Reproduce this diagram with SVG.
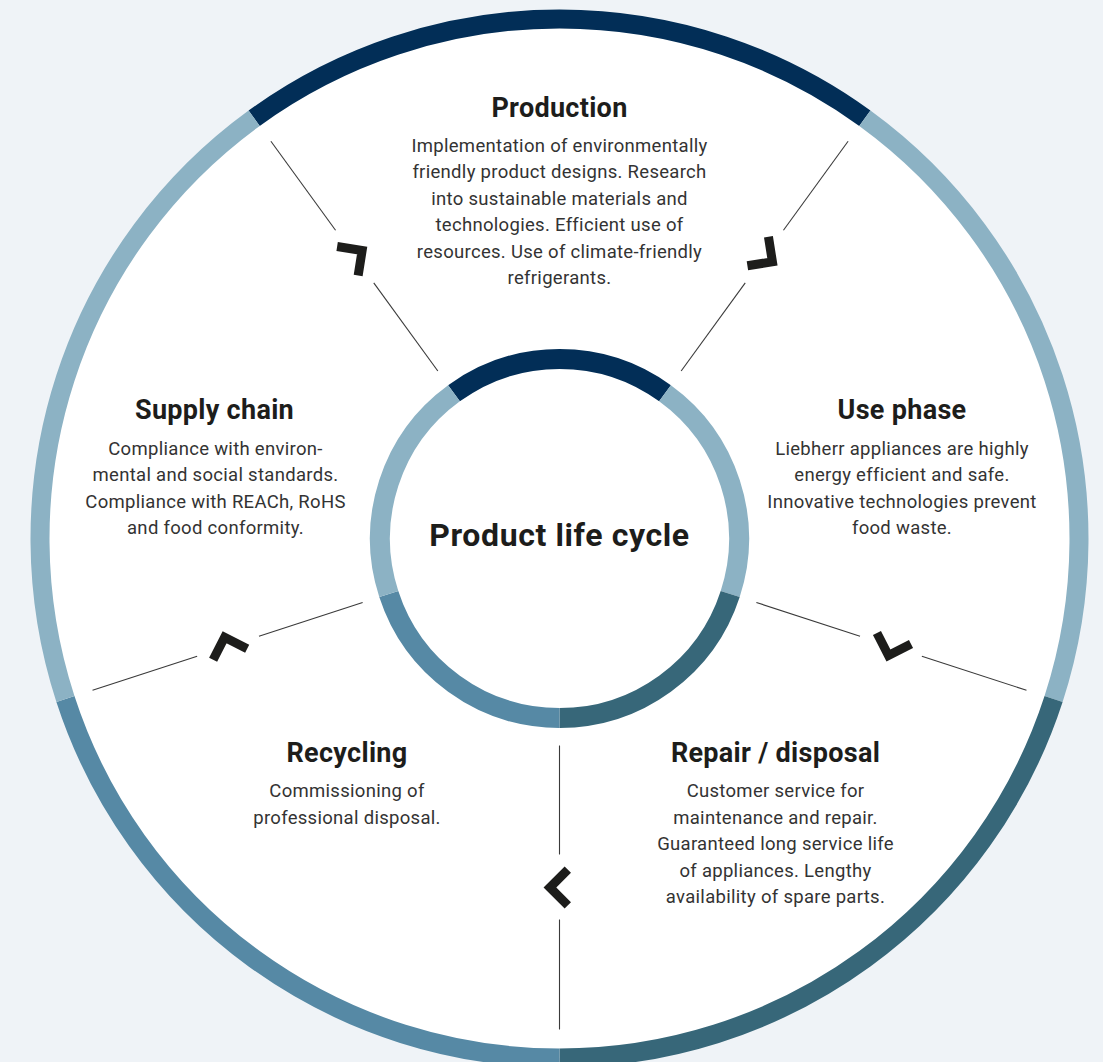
<svg xmlns="http://www.w3.org/2000/svg" width="1103" height="1062" viewBox="0 0 1103 1062">
  <defs>
    <style>
      .bg { fill: #eff3f7; }
      .disc { fill: #ffffff; }
      .ring-outer { fill: none; stroke-width: 19; }
      .ring-inner { fill: none; stroke-width: 20; }
      .navy { stroke: #022e57; }
      .light { stroke: #8cb2c4; }
      .teal { stroke: #376779; }
      .mid { stroke: #5689a5; }
      .sep { stroke: #3a3a3a; stroke-width: 1.1; fill: none; }
      .chev { fill: none; stroke: #1d1d1b; stroke-width: 9; stroke-linejoin: miter; stroke-linecap: butt; }
      .title { font-family: Roboto, "Noto Sans", sans-serif; font-weight: 700; font-size: 27px; letter-spacing: 0.3px; fill: #1d1d1b; text-anchor: middle; }
      .centre { font-family: Roboto, "Noto Sans", sans-serif; font-weight: 700; font-size: 32px; letter-spacing: 0.6px; fill: #1d1d1b; text-anchor: middle; }
      .body { font-family: Roboto, "Noto Sans", sans-serif; font-weight: 400; font-size: 18.5px; letter-spacing: 0.3px; fill: #333333; text-anchor: middle; }
    </style>
    <polyline id="chevron" class="chev" points="8.3,-17.9 -9.6,0 8.3,17.9"/>
  </defs>

  <rect class="bg" x="0" y="0" width="1103" height="1062"/>

  <!-- outer ring: white disc with five coloured arcs -->
  <g id="outer-ring">
    <circle class="disc" cx="559.5" cy="538.5" r="519.5"/>
    <path class="ring-outer navy" d="M254.15,118.21 A519.5,519.5 0 0 1 864.85,118.21"/>
    <path class="ring-outer light" d="M864.85,118.21 A519.5,519.5 0 0 1 1053.57,699.03"/>
    <path class="ring-outer teal" d="M1053.57,699.03 A519.5,519.5 0 0 1 559.5,1058"/>
    <path class="ring-outer mid" d="M559.5,1058 A519.5,519.5 0 0 1 65.43,699.03"/>
    <path class="ring-outer light" d="M65.43,699.03 A519.5,519.5 0 0 1 254.15,118.21"/>
  </g>

  <!-- connectors: radial separators with direction chevrons -->
  <g id="connectors">
    <g id="sep-36">
      <line class="sep" x1="681.17" y1="371.03" x2="745.24" y2="282.85"/>
      <line class="sep" x1="783.45" y1="230.27" x2="848.10" y2="141.27"/>
      <use href="#chevron" transform="translate(764.64,256.15) rotate(216)"/>
    </g>
    <g id="sep-108">
      <line class="sep" x1="756.37" y1="602.47" x2="860.03" y2="636.15"/>
      <line class="sep" x1="921.85" y1="656.24" x2="1026.47" y2="690.23"/>
      <use href="#chevron" transform="translate(891.42,646.35) rotate(288)"/>
    </g>
    <g id="sep-180">
      <line class="sep" x1="559.5" y1="745.5" x2="559.5" y2="854.5"/>
      <line class="sep" x1="559.5" y1="919.5" x2="559.5" y2="1029.5"/>
      <use href="#chevron" transform="translate(559.5,887.5)"/>
    </g>
    <g id="sep-252">
      <line class="sep" x1="362.63" y1="602.47" x2="258.97" y2="636.15"/>
      <line class="sep" x1="197.15" y1="656.24" x2="92.53" y2="690.23"/>
      <use href="#chevron" transform="translate(227.58,646.35) rotate(72)"/>
    </g>
    <g id="sep-324">
      <line class="sep" x1="437.83" y1="371.03" x2="373.76" y2="282.85"/>
      <line class="sep" x1="335.55" y1="230.27" x2="270.90" y2="141.27"/>
      <use href="#chevron" transform="translate(354.36,256.15) rotate(144)"/>
    </g>
  </g>

  <!-- centre node -->
  <g id="node-centre">
    <circle class="disc" cx="559.5" cy="538.5" r="170"/>
    <path class="ring-inner navy" d="M453.99,393.28 A179.5,179.5 0 0 1 665.01,393.28"/>
    <path class="ring-inner light" d="M665.01,393.28 A179.5,179.5 0 0 1 730.21,593.97"/>
    <path class="ring-inner teal" d="M730.21,593.97 A179.5,179.5 0 0 1 559.5,718"/>
    <path class="ring-inner mid" d="M559.5,718 A179.5,179.5 0 0 1 388.79,593.97"/>
    <path class="ring-inner light" d="M388.79,593.97 A179.5,179.5 0 0 1 453.99,393.28"/>
    <text class="centre" x="559.5" y="545.5">Product life cycle</text>
  </g>

  <g id="node-production">
    <text class="title" x="559.5" y="116.5">Production</text>
    <text class="body" x="559.5" y="151.5">Implementation of environmentally</text>
    <text class="body" x="559.5" y="178">friendly product designs. Research</text>
    <text class="body" x="559.5" y="204.5">into sustainable materials and</text>
    <text class="body" x="559.5" y="231">technologies. Efficient use of</text>
    <text class="body" x="559.5" y="257.5">resources. Use of climate-friendly</text>
    <text class="body" x="559.5" y="284">refrigerants.</text>
  </g>

  <g id="node-use-phase">
    <text class="title" x="902" y="418.5">Use phase</text>
    <text class="body" x="902" y="454.5">Liebherr appliances are highly</text>
    <text class="body" x="902" y="481">energy efficient and safe.</text>
    <text class="body" x="902" y="507.5">Innovative technologies prevent</text>
    <text class="body" x="902" y="534">food waste.</text>
  </g>

  <g id="node-repair">
    <text class="title" x="775.5" y="761.5">Repair / disposal</text>
    <text class="body" x="775.5" y="797">Customer service for</text>
    <text class="body" x="775.5" y="823.5">maintenance and repair.</text>
    <text class="body" x="775.5" y="850">Guaranteed long service life</text>
    <text class="body" x="775.5" y="876.5">of appliances. Lengthy</text>
    <text class="body" x="775.5" y="903">availability of spare parts.</text>
  </g>

  <g id="node-recycling">
    <text class="title" x="347" y="761.5">Recycling</text>
    <text class="body" x="347" y="797">Commissioning of</text>
    <text class="body" x="347" y="823.5">professional disposal.</text>
  </g>

  <g id="node-supply-chain">
    <text class="title" x="214.5" y="418.5">Supply chain</text>
    <text class="body" x="215.5" y="454.5">Compliance with environ-</text>
    <text class="body" x="215.5" y="481">mental and social standards.</text>
    <text class="body" x="215.5" y="507.5">Compliance with REACh, RoHS</text>
    <text class="body" x="215.5" y="534">and food conformity.</text>
  </g>
</svg>
